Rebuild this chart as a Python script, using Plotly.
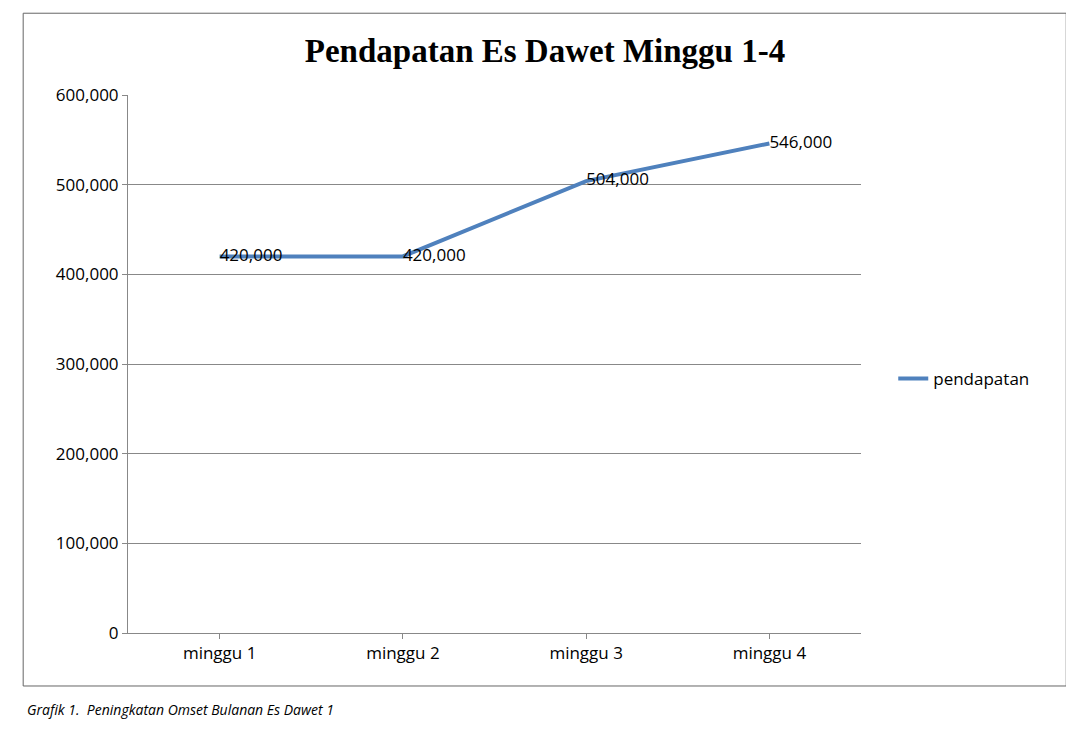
import plotly.graph_objects as go

# data
weeks = ['minggu 1', 'minggu 2', 'minggu 3', 'minggu 4']
pendapatan = [420000, 420000, 504000, 546000]
labels = ['420,000', '420,000', '504,000', '546,000']

fig = go.Figure()
fig.add_trace(go.Scatter(x=weeks, y=pendapatan, mode='lines+text', name='pendapatan',
                         line=dict(color='#4F81BD', width=4),
                         text=labels, textposition='middle right',
                         textfont=dict(family='Open Sans', size=17, color='black')))

fig.update_layout(
    width=1074, height=745,
    margin=dict(l=120, r=221, t=87, b=120),
    paper_bgcolor='white', plot_bgcolor='white',
    title=dict(text='<b>Pendapatan Es Dawet Minggu 1-4</b>', x=0.5, xanchor='center',
               y=1 - 42 / 745, yanchor='middle',
               font=dict(family='Liberation Serif', size=33, color='black')),
    xaxis=dict(range=[-0.5, 3.5], showgrid=False, showline=True, linecolor='#888',
               ticks='outside', ticklen=5, tickcolor='#888',
               tickfont=dict(family='Open Sans', size=17, color='black')),
    yaxis=dict(range=[0, 600000], dtick=100000, tickformat=',', showgrid=True,
               gridcolor='#888', showline=True, linecolor='#888', zeroline=False,
               ticks='outside', ticklen=5, tickcolor='#888',
               tickfont=dict(family='Open Sans', size=17, color='black')),
    showlegend=True,
    legend=dict(x=1.044, y=0.472, yanchor='middle', xanchor='left',
                font=dict(family='Open Sans', size=17, color='black')),
    shapes=[dict(type='rect', xref='paper', yref='paper', x0=-0.143, x1=1.28,
                 y0=-0.0985, y1=1.152, line=dict(color='#666', width=1))],
    annotations=[dict(text='<i>Grafik 1.  Peningkatan Omset Bulanan Es Dawet 1</i>',
                      xref='paper', yref='paper', x=-0.1405, y=-0.143,
                      xanchor='left', yanchor='middle', showarrow=False,
                      font=dict(family='Open Sans', size=14, color='black'))],
)

fig.write_html('out.html')
